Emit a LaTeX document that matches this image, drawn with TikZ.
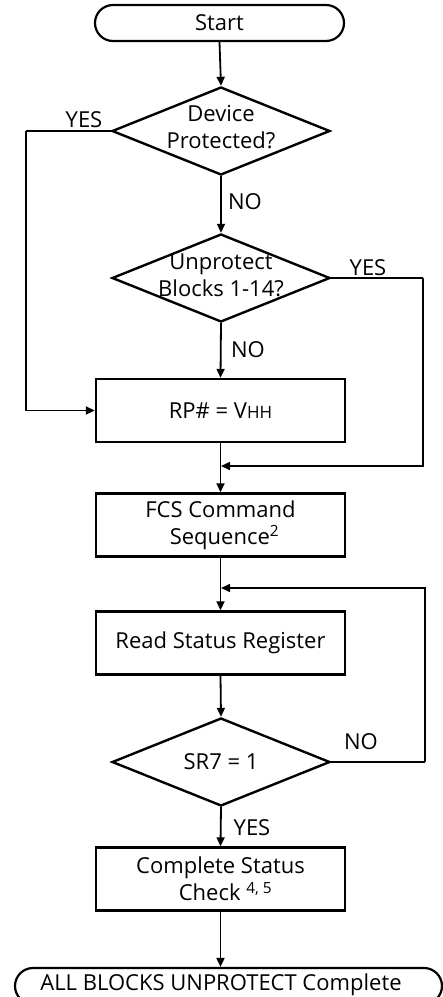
\documentclass[tikz,border=0pt]{standalone}
\usepackage{fontspec}
\setmainfont{Open Sans}
\usetikzlibrary{shapes.geometric,arrows.meta}
\begin{document}
\begin{tikzpicture}[x=1pt,y=-1pt,
  font=\fontsize{22}{27}\selectfont,
  box/.style={draw,line width=2.4pt,minimum width=249pt,minimum height=63pt,inner sep=0pt,align=center},
  term/.style={draw,line width=2.2pt,rounded corners=18pt,minimum height=36pt,inner sep=0pt},
  dia/.style={draw,diamond,line width=2.4pt,minimum width=218pt,minimum height=88pt,inner sep=0pt},
  txt/.style={inner sep=0pt,align=center},
  lbl/.style={inner sep=0pt},
  conn/.style={line width=1.8pt},
  arr/.style={conn,-{Triangle[length=9pt,width=8pt]}},
  loop/.style={line width=1.6pt,-{Triangle[length=9pt,width=8pt]}}]
\useasboundingbox (0,0) rectangle (443,997);
% nodes
\node[term,minimum width=249pt] (start) at (219.5,23) {Start};
\node[dia] (d1) at (221,131) {};
\node[txt] (d1t) at (221,127) {Device\\Protected?};
\node[dia] (d2) at (221,278) {};
\node[txt] (d2t) at (221,275) {Unprotect\\Blocks 1-14?};
\node[box] (rp) at (220.5,410.5) {RP\# = V{\fontsize{17}{17}\selectfont HH}};
\node[box] (fcs) at (220.5,525) {FCS Command\\\hspace*{8pt}Sequence\textsuperscript{2}};
\node[box] (rs) at (220.5,643) {Read Status Register};
\node[dia] (d3) at (221,762) {};
\node[txt] (d3t) at (221,762) {SR7 = 1};
\node[box] (cs) at (220.5,879) {Complete Status\\\hspace*{10pt}Check \textsuperscript{4, 5}};
\node[term,minimum width=427pt] (end) at (228.5,986) {};
\node[txt] (endt) at (221,985) {ALL BLOCKS UNPROTECT Complete};
% junction coordinates
\coordinate (cL) at (26,131);
\coordinate (cR1) at (423,278);
\coordinate (j1) at (221,466);
\coordinate (cR2) at (425,762);
\coordinate (j2) at (221,588);
% connectors
\draw[arr] (start.south) -- (d1.north);
\draw[conn] (d1.west) -- (cL);
\draw[arr] (cL) |- (rp.west);
\draw[arr] (d1.south) -- (d2.north);
\draw[conn] (d2.east) -- (cR1);
\draw[loop] (cR1) |- (j1);
\draw[arr] (d2.south) -- (rp.north);
\draw[arr] (rp.south) -- (fcs.north);
\draw[arr] (fcs.south) -- (rs.north);
\draw[arr] (rs.south) -- (d3.north);
\draw[conn] (d3.east) -- (cR2);
\draw[loop] (cR2) |- (j2);
\draw[arr] (d3.south) -- (cs.north);
\draw[arr] (cs.south) -- (cs.south |- end.north);
% labels
\node[lbl] (yes1) at (84,120) {YES};
\node[lbl] (no1) at (245,202) {NO};
\node[lbl] (yes2) at (368,268) {YES};
\node[lbl] (no2) at (248,350) {NO};
\node[lbl] (no3) at (361,742) {NO};
\node[lbl] (yes3) at (252,828) {YES};
\end{tikzpicture}
\end{document}
